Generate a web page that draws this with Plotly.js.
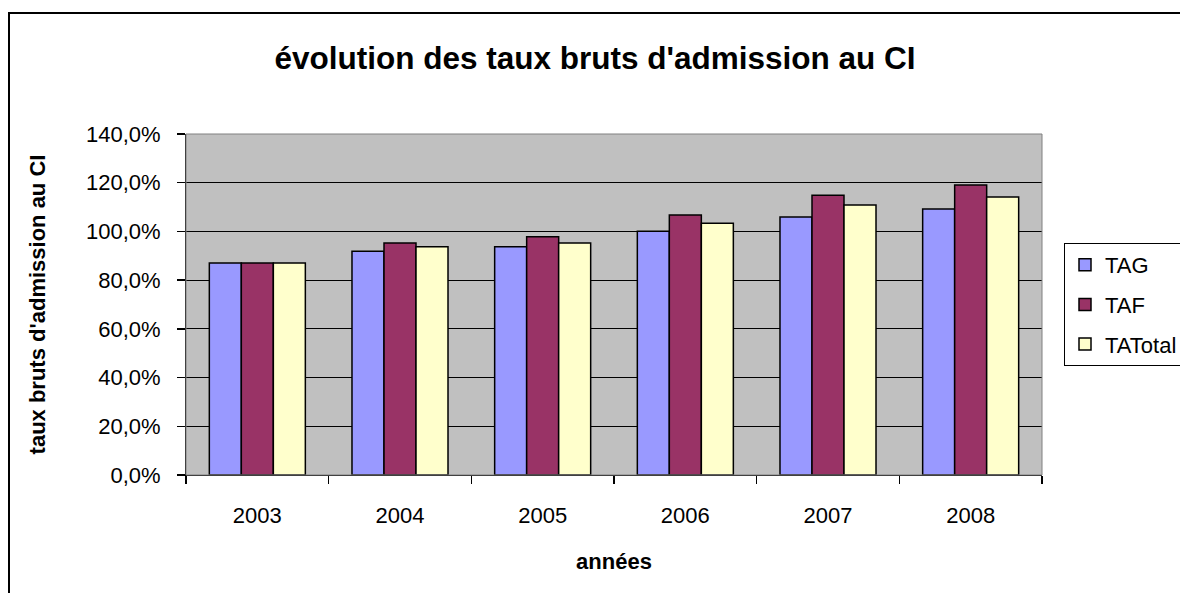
<!DOCTYPE html>
<html>
<head>
<meta charset="utf-8">
<script src="https://cdn.plot.ly/plotly-3.0.1.min.js"></script>
<style>html,body{margin:0;padding:0;background:#fff;}#chart{width:1180px;height:593px;}</style>
</head>
<body>
<div id="chart"></div>
<script>
const years = ['2003', '2004', '2005', '2006', '2007', '2008'];
const TAG = [87.0, 91.9, 93.7, 100.1, 105.9, 109.2];
const TAF = [87.0, 95.3, 97.8, 106.7, 114.9, 119.1];
const TATotal = [87.0, 93.7, 95.2, 103.4, 110.8, 114.1];
const yTicks = [0, 20, 40, 60, 80, 100, 120, 140];
const yTickText = yTicks.map(v => v.toFixed(1).replace('.', ',') + '%');

const W = 1180, H = 593;
const L = 186, R = 1042, T = 134, B = 475;
const pw = R - L, ph = B - T;
const px = v => (v - L) / pw;
const py = v => (B - v) / ph;

function bar(name, y, color, g) {
  return {
    type: 'bar', name: name, x: years, y: y, legendgroup: g,
    marker: {color: color, line: {color: '#000', width: 1.5}},
    hoverinfo: 'x+y+name'
  };
}

const data = [
  bar('TAG', TAG, '#9999FF', 'a'),
  bar('TAF', TAF, '#993366', 'b'),
  bar('TATotal', TATotal, '#FFFFCC', 'c')
];

const layout = {
  width: W, height: H,
  margin: {l: L, r: W - R, t: T, b: H - B, pad: 0, autoexpand: false},
  paper_bgcolor: '#fff',
  plot_bgcolor: '#C0C0C0',
  font: {family: 'Liberation Sans, Arial, sans-serif', size: 22, color: '#000'},
  barmode: 'group',
  bargap: 0.327,
  bargroupgap: 0,
  title: {text: "<b>évolution des taux bruts d'admission au CI</b>", font: {size: 31.5},
          x: 595 / W, xref: 'container', xanchor: 'center', y: 1 - 58 / H, yanchor: 'middle'},
  xaxis: {
    type: 'category', showgrid: false, zeroline: false, automargin: false,
    showline: true, linecolor: '#000', linewidth: 1,
    ticks: 'outside', tickson: 'boundaries', ticklen: 8, tickcolor: '#000', tickwidth: 1.5,
    ticklabelstandoff: 21,
    title: {text: '<b>années</b>', font: {size: 22}, standoff: 26}
  },
  yaxis: {
    range: [0, 140], tickmode: 'array', tickvals: yTicks, ticktext: yTickText, automargin: false,
    showgrid: true, gridcolor: '#000', gridwidth: 1, zeroline: false,
    showline: true, linecolor: '#000', linewidth: 1,
    ticks: 'outside', ticklen: 8, tickcolor: '#000', tickwidth: 1.5,
    ticklabelstandoff: 12,
    title: {text: "<b>taux bruts d'admission au CI</b>", font: {size: 22}, standoff: 34}
  },
  legend: {
    x: px(1064), y: py(243), xanchor: 'left', yanchor: 'top',
    bgcolor: '#fff', bordercolor: '#000', borderwidth: 1,
    traceorder: 'grouped', tracegroupgap: 8,
    font: {size: 22}, itemwidth: 30
  },
  shapes: [
    {type: 'rect', xref: 'paper', yref: 'paper', x0: px(9), x1: px(1185), y0: py(600), y1: py(13),
     line: {color: '#000', width: 2}, fillcolor: 'rgba(0,0,0,0)', layer: 'below'},
    {type: 'rect', xref: 'paper', yref: 'paper', x0: 0, x1: 1, y0: 0, y1: 1,
     line: {color: '#808080', width: 1}, fillcolor: 'rgba(0,0,0,0)', layer: 'above'}
  ],
  showlegend: true
};

Plotly.newPlot('chart', data, layout, {displayModeBar: false, staticPlot: true});
</script>
</body>
</html>
